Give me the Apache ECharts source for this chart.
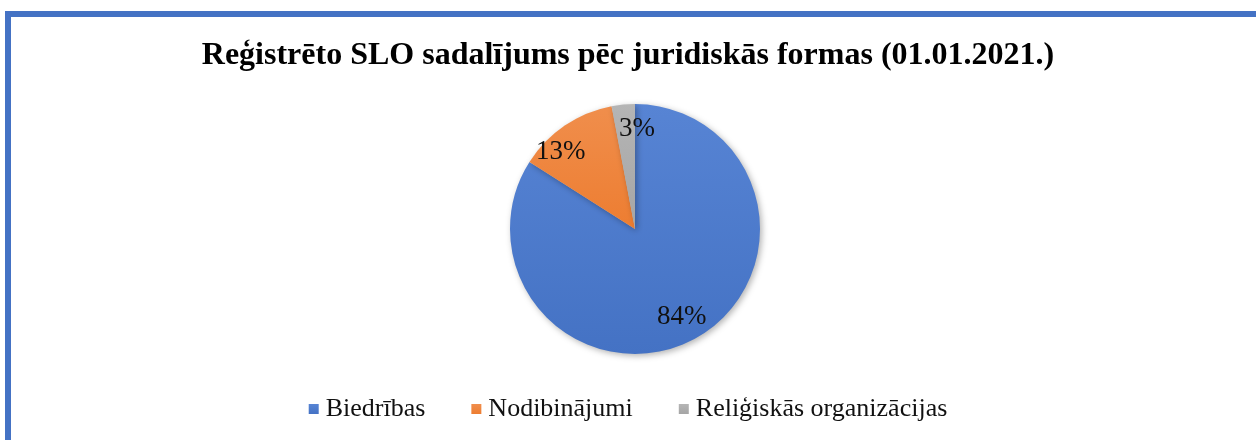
<!DOCTYPE html>
<html>
<head>
<meta charset="utf-8">
<script src="https://cdn.jsdelivr.net/npm/echarts@6/dist/echarts.min.js"></script>
<style>
  html, body { margin: 0; padding: 0; background: #fff; overflow: hidden; }
  #frame {
    position: absolute; left: 5px; top: 11px; width: 1260px; height: 460px;
    border-left: 6px solid #4472C4; border-top: 6px solid #4472C4;
    box-sizing: border-box;
  }
  #main { position: absolute; left: 0; top: 0; width: 1256px; height: 440px; }
</style>
</head>
<body>
<div id="frame"></div>
<div id="main"></div>
<script>
// dati
var categories = ['Biedrības', 'Nodibinājumi', 'Reliģiskās organizācijas'];
var values = [84, 13, 3];
var colors = ['#4472C4', '#ED7D31', '#A5A5A5'];
var lightColors = ['#5784D4', '#F08E4C', '#B5B5B5'];
var labelShift = [[-4, -5], [-15, 10], [12, 5]];

var chart = echarts.init(document.getElementById('main'));

var pieData = [];
var labelData = [];
for (var i = 0; i < categories.length; i++) {
    pieData.push({
        name: categories[i],
        value: values[i],
        itemStyle: {
            color: new echarts.graphic.LinearGradient(0, 0, 0, 1, [
                { offset: 0, color: lightColors[i] },
                { offset: 1, color: colors[i] }
            ])
        }
    });
    labelData.push({
        name: categories[i],
        value: values[i],
        label: { offset: labelShift[i] }
    });
}

var option = {
    animation: false,
    title: {
        text: 'Reģistrēto SLO sadalījums pēc juridiskās formas (01.01.2021.)',
        left: 'center',
        top: 35,
        textStyle: {
            fontFamily: 'Liberation Serif',
            fontWeight: 'bold',
            fontSize: 32,
            color: '#000'
        }
    },
    legend: {
        data: categories,
        top: 391,
        left: 'center',
        icon: 'rect',
        itemWidth: 10,
        itemHeight: 10,
        itemGap: 46,
        textStyle: {
            fontFamily: 'Liberation Serif',
            fontSize: 26,
            color: '#111',
            padding: [0, 0, 0, 2]
        }
    },
    color: colors,
    series: [
        {
            type: 'pie',
            center: [635, 229],
            radius: [0, 125],
            startAngle: 90,
            clockwise: true,
            data: pieData,
            label: { show: false },
            labelLine: { show: false },
            itemStyle: {
                shadowBlur: 6,
                shadowOffsetX: 2,
                shadowOffsetY: 2,
                shadowColor: 'rgba(0,0,0,0.3)'
            },
            emphasis: { disabled: true }
        },
        {
            // tikai uzraksti
            type: 'pie',
            center: [635, 229],
            radius: [80, 125],
            startAngle: 90,
            clockwise: true,
            silent: true,
            data: labelData,
            itemStyle: { color: 'rgba(0,0,0,0)' },
            label: {
                show: true,
                position: 'inside',
                formatter: '{d}%',
                fontFamily: 'Liberation Serif',
                fontSize: 27,
                color: '#111'
            },
            labelLine: { show: false }
        }
    ]
};

chart.setOption(option);
</script>
</body>
</html>
